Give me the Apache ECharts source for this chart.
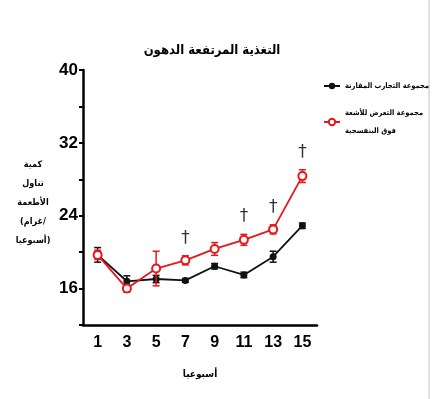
<!DOCTYPE html>
<html><head><meta charset="utf-8">
<script src="https://cdn.jsdelivr.net/npm/echarts@6/dist/echarts.min.js"></script>
<style>html,body{margin:0;padding:0;background:#fff}#c{width:443px;height:399px}</style>
</head><body><div id="c"></div>
<script>
const weeks = ['1','3','5','7','9','11','13','15'];
const controlMean = [19.7, 16.8, 17.05, 16.9, 18.45, 17.5, 19.5, 22.9];
const controlErr  = [0.8, 0.6, 0.4, 0.2, 0.3, 0.3, 0.6, 0.3];
const uvMean = [19.7, 16.0, 18.2, 19.1, 20.35, 21.35, 22.5, 28.35];
const uvErr  = [0.5, 0.4, 1.9, 0.5, 0.7, 0.6, 0.5, 0.7];
const daggerWeeks = ['7','11','13','15'];
const yTickLabels = [16, 24, 32, 40];
const titleText = 'التغذية المرتفعة الدهون';
const controlName = 'مجموعة التجارب المقارنة';
const uvName = 'مجموعة التعرض للأشعة\nفوق البنفسجية';
const xName = 'أسبوعيا';
const yNameLines = ['كمية', 'تناول', 'الأطعمة', '(غرام/', 'أسبوعيا)'];

const BLACK = '#111111', RED = '#e8161c';
const numFont = '"Liberation Sans Narrow","Liberation Sans",Arial,sans-serif';
const arFont = '"DejaVu Sans Condensed","DejaVu Sans",sans-serif';

function errSeries(mean, err, color, z) {
  return {
    type: 'custom', z: z, silent: true,
    data: weeks.map((w, i) => [i, mean[i] - err[i], mean[i] + err[i]]),
    renderItem: function (params, api) {
      const x = api.coord([api.value(0), 0])[0];
      const lo = api.coord([api.value(0), api.value(1)])[1];
      const hi = api.coord([api.value(0), api.value(2)])[1];
      const hw = 3.5;
      const st = { stroke: color, lineWidth: 1.5 };
      return { type: 'group', children: [
        { type: 'line', shape: { x1: x, y1: lo, x2: x, y2: hi }, style: st },
        { type: 'line', shape: { x1: x - hw, y1: hi, x2: x + hw, y2: hi }, style: st },
        { type: 'line', shape: { x1: x - hw, y1: lo, x2: x + hw, y2: lo }, style: st }
      ]};
    }
  };
}

const chart = echarts.init(document.getElementById('c'), null, { renderer: 'canvas' });
chart.setOption({
  animation: false,
  backgroundColor: '#fff',
  title: {
    text: titleText, left: 207, top: 39, textAlign: 'center',
    textStyle: { fontFamily: arFont, fontSize: 13, fontWeight: 'bold', color: '#000' }
  },
  legend: {
    orient: 'vertical', left: 318, top: 72, itemGap: 9,
    itemWidth: 16, itemHeight: 8,
    textStyle: { fontFamily: arFont, fontSize: 7.5, fontWeight: 'bold', color: '#000', lineHeight: 18 },
    data: [controlName, uvName]
  },
  grid: { left: 83, right: 126, top: 70, bottom: 74 },
  xAxis: {
    type: 'category', data: weeks, boundaryGap: true,
    name: xName, nameLocation: 'middle', nameGap: 44,
    nameTextStyle: { fontFamily: arFont, fontSize: 10, fontWeight: 'bold', color: '#000' },
    axisLine: { lineStyle: { color: '#000', width: 2.5 } },
    axisTick: { alignWithLabel: true, length: 5, lineStyle: { color: '#000', width: 2 } },
    axisLabel: { margin: 10, fontFamily: numFont, fontSize: 16, fontWeight: 'bold', color: '#000' }
  },
  yAxis: {
    type: 'value', min: 12, max: 40, interval: 4,
    name: '{s|}\n' + yNameLines.map(s => '{t|' + s + '}').join('\n'),
    nameLocation: 'middle', nameRotate: 0, nameGap: 50,
    nameTextStyle: {
      fontFamily: arFont, fontSize: 9, fontWeight: 'bold', color: '#000', align: 'center', verticalAlign: 'middle',
      rich: {
        s: { lineHeight: 10, fontSize: 9 },
        t: { lineHeight: 19, fontFamily: arFont, fontSize: 9, fontWeight: 'bold', color: '#000', align: 'center' }
      }
    },
    axisLine: { show: true, lineStyle: { color: '#000', width: 2.5 } },
    axisTick: { show: true, length: 4, lineStyle: { color: '#000', width: 2 } },
    splitLine: { show: false },
    axisLabel: {
      margin: 5, fontFamily: numFont, fontSize: 17, fontWeight: 'bold', color: '#000',
      formatter: v => yTickLabels.indexOf(v) >= 0 ? String(v) : ''
    }
  },
  series: [
    errSeries(controlMean, controlErr, BLACK, 3),
    {
      name: controlName, type: 'line', data: controlMean, z: 4,
      symbol: 'circle', symbolSize: 7,
      itemStyle: { color: BLACK }, lineStyle: { color: BLACK, width: 1.8 }
    },
    errSeries(uvMean, uvErr, RED, 5),
    {
      name: uvName, type: 'line', data: uvMean, z: 6,
      symbol: 'emptyCircle', symbolSize: 8,
      itemStyle: { color: RED, borderWidth: 1.8 }, lineStyle: { color: RED, width: 1.8 }
    },
    {
      type: 'scatter', symbolSize: 0, silent: true, z: 7,
      data: weeks.map((w, i) => daggerWeeks.indexOf(w) >= 0 ? uvMean[i] + uvErr[i] : null),
      label: { show: true, position: 'top', distance: 9, formatter: '†',
        fontFamily: '"DejaVu Sans",sans-serif', fontSize: 17, color: '#000' }
    }
  ],
  graphic: [
    { type: 'line', silent: true, shape: { x1: 429, y1: 0, x2: 429, y2: 399 },
      style: { stroke: '#d8d8d8', lineWidth: 1.5 } }
  ]
});
</script></body></html>
